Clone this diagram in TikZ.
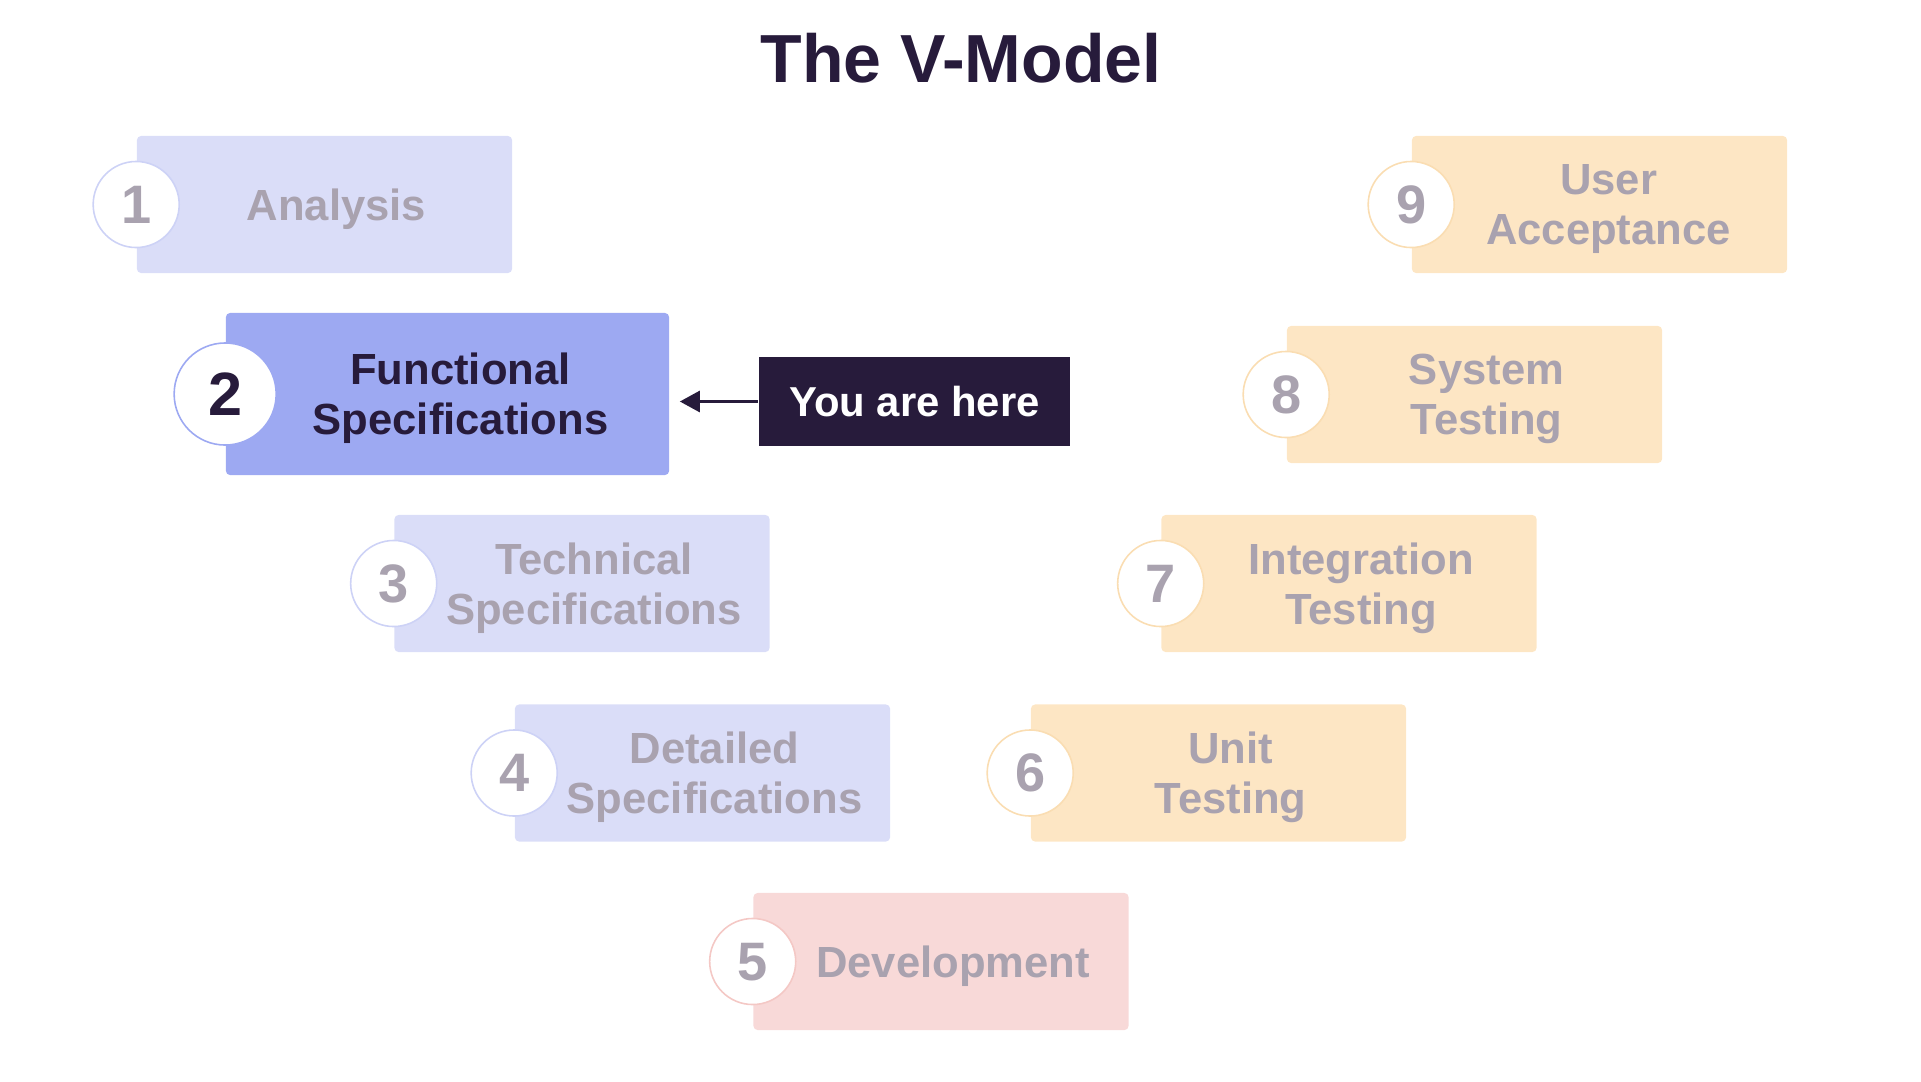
\documentclass[tikz,border=0pt]{standalone}
\usepackage{fontspec}
\setmainfont{Liberation Sans}
\usetikzlibrary{arrows.meta}

\definecolor{lavfill}{HTML}{DADDF8}
\definecolor{lavline}{HTML}{CDD2F6}
\definecolor{hilite}{HTML}{9DA9F2}
\definecolor{peachfill}{HTML}{FDE6C4}
\definecolor{peachline}{HTML}{FADDB2}
\definecolor{pinkfill}{HTML}{F8D9D8}
\definecolor{pinkline}{HTML}{F4C8C5}
\definecolor{greytext}{HTML}{A9A2AF}
\definecolor{darkink}{HTML}{271B3B}

\begin{document}
\begin{tikzpicture}[x=0.01cm, y=-0.01cm,
    stepbox/.style={rectangle, rounded corners=1.2pt, minimum width=3.75cm, minimum height=1.37cm, inner sep=0pt},
    bigbox/.style={stepbox, minimum width=4.43cm, minimum height=1.62cm},
    steptext/.style={align=center, inner sep=0pt, text depth=0pt, text=greytext,
        font=\fontsize{12.4pt}{14.3pt}\selectfont\bfseries},
    stepnum/.style={circle, fill=white, line width=0.45pt, minimum size=0.86cm, inner sep=0pt,
        text depth=0pt, text=greytext, font=\fontsize{15.4pt}{16pt}\selectfont\bfseries},
    bignum/.style={stepnum, minimum size=1.02cm, font=\fontsize{17.4pt}{18pt}\selectfont\bfseries}]

    \useasboundingbox (0,0) rectangle (1921,1081);

    \node[anchor=base, text=darkink, font=\fontsize{19.35pt}{20pt}\selectfont\bfseries] (title) at (961,82) {The V-Model};



    \node[stepbox, fill=lavfill] (analysis) at (324.5,204.5) {};
    \node[stepnum, draw=lavline] (analysis-n) at (analysis.west) {1};
    \node[steptext] (analysis-t) at ([xshift=0.12cm]analysis.center) {Analysis};

    \node[bigbox, fill=hilite] (funcspec) at (447.5,394) {};
    \node[bignum, draw=hilite, text=darkink] (funcspec-n) at (funcspec.west) {2};
    \node[steptext, text=darkink] (funcspec-t) at ([xshift=0.13cm]funcspec.center) {Functional\\Specifications};

    \node[stepbox, fill=lavfill] (techspec) at (582,583.5) {};
    \node[stepnum, draw=lavline] (techspec-n) at (techspec.west) {3};
    \node[steptext] (techspec-t) at ([xshift=0.12cm]techspec.center) {Technical\\Specifications};

    \node[stepbox, fill=lavfill] (detspec) at (702.5,773) {};
    \node[stepnum, draw=lavline] (detspec-n) at (detspec.west) {4};
    \node[steptext] (detspec-t) at ([xshift=0.12cm]detspec.center) {Detailed\\Specifications};

    \node[stepbox, fill=pinkfill] (devel) at (941,961.5) {};
    \node[stepnum, draw=pinkline] (devel-n) at (devel.west) {5};
    \node[steptext] (devel-t) at ([xshift=0.12cm]devel.center) {Development};



    \node[stepbox, fill=peachfill] (unittest) at (1218.5,773) {};
    \node[stepnum, draw=peachline] (unittest-n) at (unittest.west) {6};
    \node[steptext] (unittest-t) at ([xshift=0.12cm]unittest.center) {Unit\\Testing};

    \node[stepbox, fill=peachfill] (inttest) at (1349,583.5) {};
    \node[stepnum, draw=peachline] (inttest-n) at (inttest.west) {7};
    \node[steptext] (inttest-t) at ([xshift=0.12cm]inttest.center) {Integration\\Testing};

    \node[stepbox, fill=peachfill] (systest) at (1474.5,394.5) {};
    \node[stepnum, draw=peachline] (systest-n) at (systest.west) {8};
    \node[steptext] (systest-t) at ([xshift=0.12cm]systest.center) {System\\Testing};

    \node[stepbox, fill=peachfill] (useracc) at (1599.5,204.5) {};
    \node[stepnum, draw=peachline] (useracc-n) at (useracc.west) {9};
    \node[steptext] (useracc-t) at ([xshift=0.09cm]useracc.center) {User\\Acceptance};



    \node[rectangle, fill=darkink, minimum width=3.11cm, minimum height=0.89cm, inner sep=0pt,
        text=white, text depth=0pt, font=\fontsize{11.9pt}{13pt}\selectfont\bfseries] (here) at (914.5,401.5) {You are here};

    \draw[darkink, line width=0.85pt, -{Triangle[length=0.2cm, width=0.21cm]}] (here.west) -- ([xshift=0.1cm]here.west -| funcspec.east);

\end{tikzpicture}
\end{document}
